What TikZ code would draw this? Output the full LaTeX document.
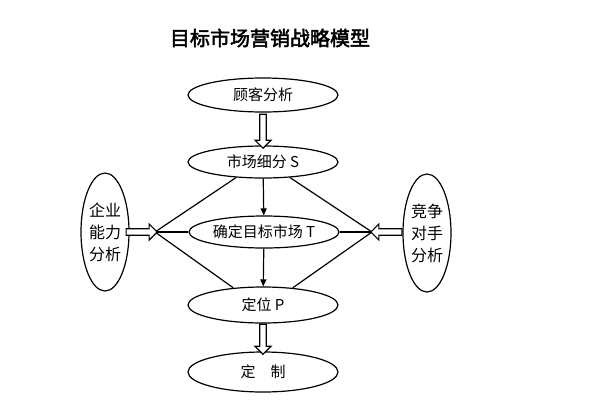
\documentclass[tikz,border=0pt]{standalone}
\usepackage{fontspec}
\newfontfamily\cjk[AutoFakeBold=2.5]{Noto Sans CJK SC}
\usetikzlibrary{shapes.arrows,shapes.geometric,arrows.meta}
\begin{document}
\begin{tikzpicture}[x=1pt,y=-1pt,
  el/.style={draw,line width=1.2pt,ellipse,minimum width=150pt,minimum height=32pt,inner sep=0pt,font=\cjk\fontsize{15}{17}\selectfont},
  side/.style={draw,line width=1.2pt,ellipse,minimum width=48pt,minimum height=118pt,inner sep=0pt,align=center,font=\cjk\fontsize{16}{22}\selectfont},
  hol/.style={draw,line width=1.2pt,fill=white,single arrow,single arrow head extend=3pt,minimum width=16pt,inner sep=1.5pt},
  ln/.style={line width=1.2pt},
  ar/.style={line width=1.2pt,-{Triangle[length=7pt,width=6pt]}}]
\useasboundingbox (0,0) rectangle (600,400);
\node (title) at (270,38) {\cjk\bfseries\fontsize{20}{22}\selectfont 目标市场营销战略模型};
\node[el,minimum height=34pt] (c) at (263,95) {顾客分析};
\node[el] (s) at (263,162) {市场细分 S};
\node[el] (t) at (264,232) {确定目标市场 T};
\node[el,minimum height=36pt] (p) at (263,305) {定位 P};
\node[el,minimum height=40pt] (d) at (263,372) {定\hspace{1em}制};
\node[side] (l) at (105,232) {企业\\能力\\分析};
\node[side] (r) at (427,233) {竞争\\对手\\分析};
\coordinate (lv) at (155,232);
\coordinate (rv) at (372,232);
\draw[ln] (s.210) -- (lv) -- (p.150);
\draw[ln] (s.330) -- (rv) -- (p.30);
\draw[ln] (lv) -- (t.west);
\draw[ln] (rv) -- (t.east);
\draw[ar] (s) -- (t);
\draw[ar] (t) -- (p);
\node[hol,minimum height=34pt,shape border rotate=270] (a1) at (263,129.5) {};
\node[hol,minimum height=30pt,shape border rotate=270] (a2) at (263,337.5) {};
\node[hol,minimum height=31pt] (a3) at (140,232) {};
\node[hol,minimum height=31pt,shape border rotate=180] (a4) at (388,232) {};
\end{tikzpicture}
\end{document}
